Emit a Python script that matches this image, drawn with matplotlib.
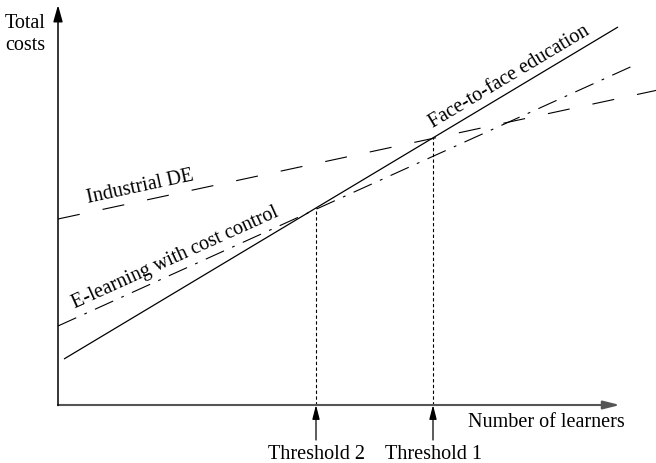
import numpy as np
import matplotlib
matplotlib.use("Agg")
import matplotlib.pyplot as plt

# line endpoints (learners, total cost) in arbitrary units
face_x = [0.6, 56.0]
face_y = [4.6, 37.8]
ind_x = [0.0, 60.0]
ind_y = [18.6, 31.5]
elearn_x = [0.0, 57.9]
elearn_y = [7.9, 34.1]

thresholds = [25.8, 37.5]
threshold_labels = ["Threshold 2", "Threshold 1"]

plt.rcParams["font.family"] = ["Liberation Serif", "DejaVu Serif"]
plt.rcParams["font.size"] = 14.5

fig = plt.figure(figsize=(6.56, 4.63), dpi=100)
ax = fig.add_axes([0, 0, 1, 1])
ax.set_xlim(-5.8, 59.8)
ax.set_ylim(-5.8, 40.5)
ax.axis("off")

ax.plot(face_x, face_y, color="black", lw=0.9, solid_capstyle="butt")
ax.plot(ind_x, ind_y, color="black", lw=0.8, linestyle=(0, (20, 21)))
ax.plot(elearn_x, elearn_y, color="black", lw=0.8, linestyle=(0, (18, 8, 2.5, 8)))


def line_at(xs, ys, x):
    return ys[0] + (x - xs[0]) * (ys[1] - ys[0]) / (xs[1] - xs[0])


def slope_deg(xs, ys):
    return np.degrees(np.arctan2(ys[1] - ys[0], xs[1] - xs[0]))


# threshold verticals and arrows
for t, lab in zip(thresholds, threshold_labels):
    top = line_at(face_x, face_y, t)
    ax.plot([t, t], [0, top], color="black", lw=0.8, linestyle=(0, (3, 2.2)))
    ax.annotate("", xy=(t, 0), xytext=(t, -3.5),
                arrowprops=dict(arrowstyle="-|>,head_length=0.85,head_width=0.22",
                                mutation_scale=10, color="black", lw=0.9,
                                shrinkA=0, shrinkB=0))
    ax.text(t, -5.4, lab, ha="center", va="baseline")

# axes with arrows
ax.annotate("", xy=(56.2, 0), xytext=(0, 0),
            arrowprops=dict(arrowstyle="-|>,head_length=1.0,head_width=0.25",
                            mutation_scale=10, color="#555555", lw=1.5,
                            shrinkA=0, shrinkB=0))
ax.annotate("", xy=(0, 40.0), xytext=(0, -0.05),
            arrowprops=dict(arrowstyle="-|>,head_length=1.0,head_width=0.28",
                            mutation_scale=10, color="black", lw=1.1,
                            shrinkA=0, shrinkB=0))

ax.text(-5.3, 35.5, "Total\ncosts", ha="left", va="baseline", linespacing=1.2)
ax.text(41.0, -2.2, "Number of learners", ha="left", va="baseline")

# curve labels
for xs, ys, x0, text in [
    (face_x, face_y, 37.5, "Face-to-face education"),
    (ind_x, ind_y, 3.0, "Industrial DE"),
    (elearn_x, elearn_y, 1.7, "E-learning with cost control"),
]:
    ax.text(x0, line_at(xs, ys, x0) + 1.0, text, rotation=slope_deg(xs, ys),
            rotation_mode="anchor", transform_rotates_text=True,
            ha="left", va="baseline")

fig.savefig("out.png", dpi=100)
